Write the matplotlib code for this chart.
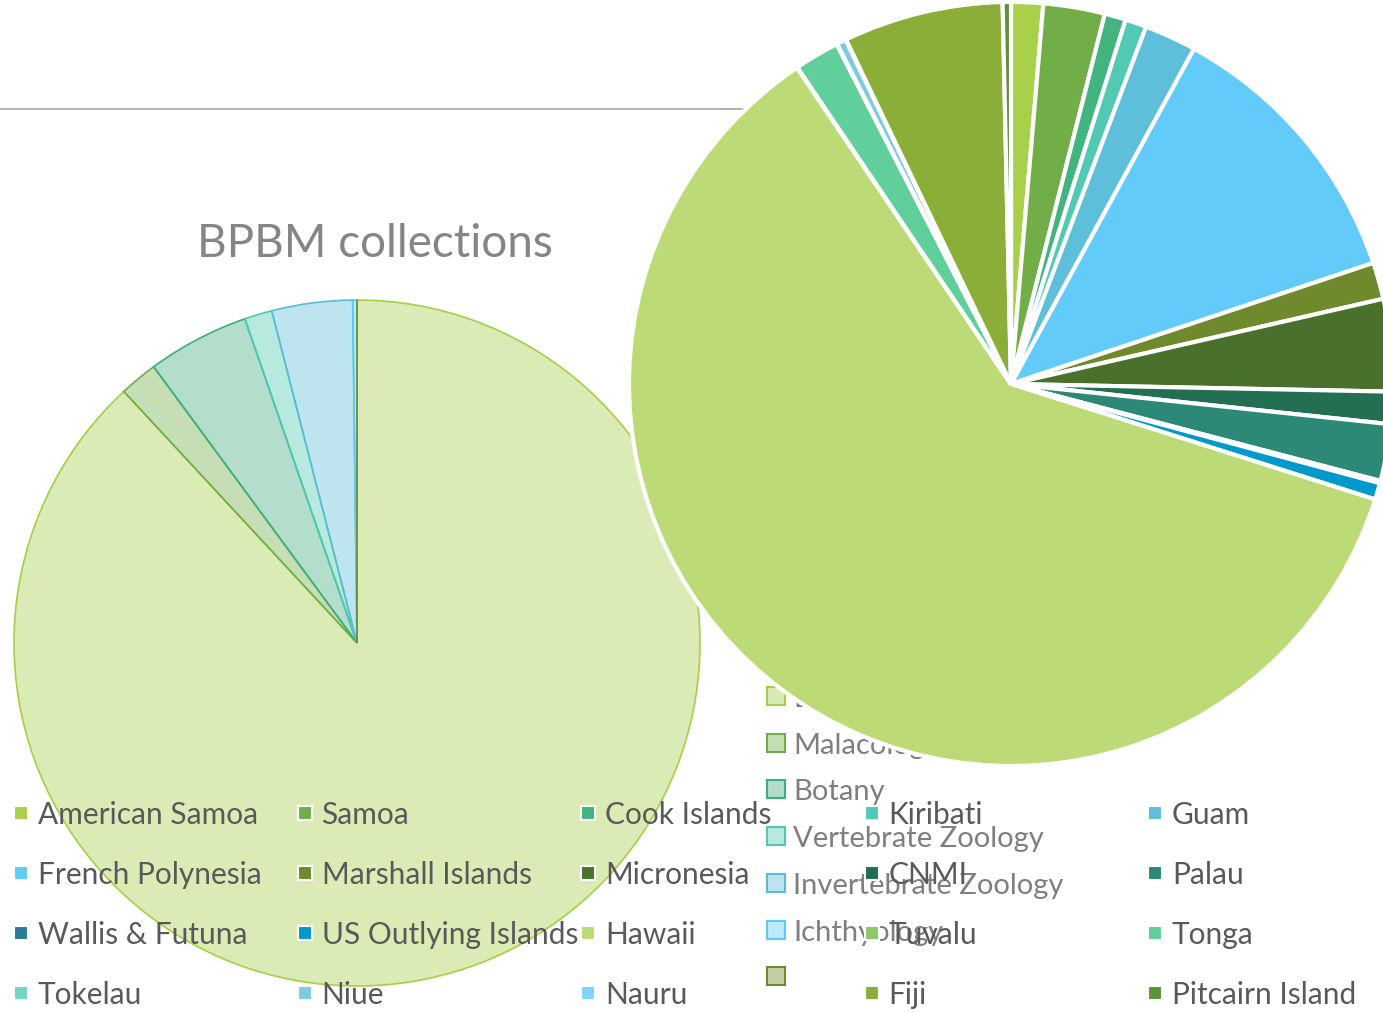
import matplotlib
matplotlib.use("Agg")
import matplotlib.pyplot as plt
from matplotlib.colors import to_rgba
from matplotlib.patches import Rectangle
from matplotlib.lines import Line2D

W, H = 1383, 1013
plt.rcParams["font.family"] = ["Lato", "DejaVu Sans"]

# BPBM collections by department (share, %)
DEPTS = ["Entomology", "Malacology", "Botany", "Vertebrate Zoology",
         "Invertebrate Zoology", "Ichthyology", ""]
DEPT_SHARE = [88.1, 1.8, 4.8, 1.3, 3.8, 0.2, 0.0]
DEPT_COLORS = ["#a5cf46", "#70ad47", "#3fae7d", "#4ec9b0",
               "#5bbcd7", "#5ec9f7", "#6e8b2e"]

# specimens by island group (share, %)
ISLANDS = ["American Samoa", "Samoa", "Cook Islands", "Kiribati", "Guam",
           "French Polynesia", "Marshall Islands", "Micronesia", "CNMI", "Palau",
           "Wallis & Futuna", "US Outlying Islands", "Hawaii", "Tuvalu", "Tonga",
           "Tokelau", "Niue", "Nauru", "Fiji", "Pitcairn Island"]
ISLAND_SHARE = [1.35, 2.6, 0.9, 0.9, 2.2,
                11.9, 1.55, 3.9, 1.36, 2.4,
                0.1, 0.7, 60.6, 0.02, 1.9,
                0.02, 0.4, 0.02, 6.75, 0.35]
ISLAND_COLORS = ["#a9d04a", "#72ae48", "#43b37f", "#51c9b3", "#5dbfd9",
                 "#62cbfa", "#6e8a2d", "#4a712b", "#236f52", "#2c8877",
                 "#2b7d93", "#0099cc", "#bcdb76", "#8cc866", "#60cf9c",
                 "#74d4c6", "#7ecbe0", "#80d4fb", "#8bae38", "#5c9339"]


def px_axes(fig, cx, cy, r, z):
    return fig.add_axes([(cx - r) / W, (H - cy - r) / H, 2 * r / W, 2 * r / H], zorder=z)


def overlay(fig, z):
    ax = fig.add_axes([0, 0, 1, 1], zorder=z)
    ax.set_xlim(0, W)
    ax.set_ylim(H, 0)
    ax.axis("off")
    ax.patch.set_visible(False)
    return ax


fig = plt.figure(figsize=(W / 100, H / 100), dpi=100)

# --- left chart (underneath) ---
bg = overlay(fig, 0)
bg.add_line(Line2D([0, 745], [109, 109], color="#a6a6a6", lw=1.2))
bg.text(375, 257, "BPBM collections", ha="center", va="baseline",
        fontsize=33, color="#858585")
for i, (lab, c) in enumerate(zip(DEPTS, DEPT_COLORS)):
    y = 696 + i * 46.7
    bg.add_patch(Rectangle((767, y - 9), 18, 18, facecolor=to_rgba(c, 0.4),
                           edgecolor=c, lw=1.5))
    bg.text(793, y + 11, lab, fontsize=21, color="#7f7f7f", va="baseline")

axl = px_axes(fig, 357, 643, 343, 1)
axl.pie(DEPT_SHARE, colors=[to_rgba(c, 0.4) for c in DEPT_COLORS],
        startangle=90, counterclock=False,
        wedgeprops=dict(linewidth=1.2))
for w, c in zip(axl.patches, DEPT_COLORS):
    w.set_edgecolor(c)
axl.set_xlim(-1, 1)
axl.set_ylim(-1, 1)

# --- right chart (on top) ---
axr = px_axes(fig, 1011, 384, 382, 2)
axr.pie(ISLAND_SHARE, colors=ISLAND_COLORS, startangle=90, counterclock=False,
        wedgeprops=dict(edgecolor="white", linewidth=3))
axr.set_xlim(-1, 1)
axr.set_ylim(-1, 1)

fg = overlay(fig, 3)
for i, (lab, c) in enumerate(zip(ISLANDS, ISLAND_COLORS)):
    row, col = divmod(i, 5)
    x = 21 + col * 283.5
    y = 813 + row * 60
    fg.add_patch(Rectangle((x - 7, y - 7), 14, 14, facecolor=c,
                           edgecolor="white", lw=1.5))
    fg.text(x + 17, y + 11, lab, fontsize=21.5, color="#595959", va="baseline")

fig.savefig("out.png", dpi=100)
